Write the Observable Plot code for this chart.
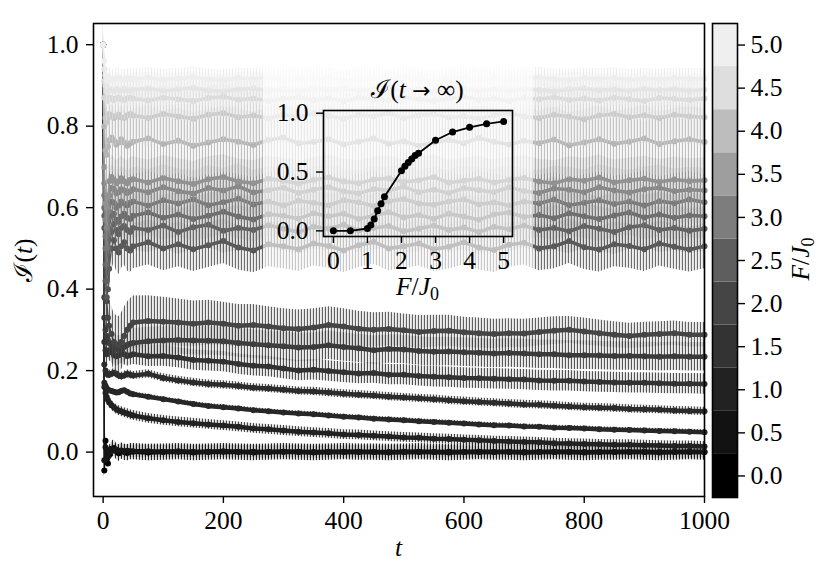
<!DOCTYPE html>
<html><head><meta charset="utf-8">
<script src="https://cdn.jsdelivr.net/npm/d3@7"></script>
<script src="https://cdn.jsdelivr.net/npm/@observablehq/plot@0.6"></script>
<style>
html,body{margin:0;padding:0;background:#fff;}
#wrap{position:relative;width:830px;height:578px;overflow:hidden;}
#wrap svg{position:absolute;top:0;left:0;}
#wrap g[aria-label$="tick"]{stroke-width:1.4px;}
</style></head><body><div id="wrap"></div>
<script>
// ---------- data ----------
const T = [0,2,4,6,8,10,14,18,22,26,30,35,40,45,
 50,75,100,125,150,175,200,225,250,275,300,325,350,
 375,400,425,450,475,500,525,550,575,600,625,650,675,
 700,725,750,775,800,825,850,875,900,925,950,975,1000];

const F_VALUES = [0,0.5,1.0,1.1,1.2,1.3,1.4,1.5,2.0,2.1,2.2,2.3,2.4,2.5,3.0,3.5,4.0,4.5,5.0];

const I_F00 = [1.0,-0.045,0.028,0.0,-0.028,-0.008,0.006,0.01,0.002,-0.003,0.003,0.0,-0.002,0.001,
 0.001,-0.001,0.0,0.001,-0.001,0.0,0.001,0.0,-0.001,0.0,0.001,0.0,-0.001,
 0.0,0.001,0.0,0.0,-0.001,0.0,0.001,0.0,-0.001,0.0,0.001,0.0,0.0,
 -0.001,0.0,0.001,0.0,-0.001,0.0,0.0,0.001,0.0,-0.001,0.0,0.001,0.0];
const I_F05 = [1.0,-0.02,0.012,0.006,-0.012,0.0,0.008,0.004,0.006,0.003,0.004,0.002,0.003,0.002,
 0.002,0.002,0.001,0.002,0.001,0.001,0.002,0.001,0.001,0.0,0.001,0.001,0.0,
 0.001,0.0,0.001,0.0,0.0,0.001,0.0,0.0,0.001,0.0,0.0,0.0,0.001,
 0.0,0.0,0.0,0.001,0.0,0.0,0.0,0.0,0.001,0.0,0.0,0.0,0.0];
const I_F10 = [1.0,0.16,0.145,0.135,0.128,0.122,0.115,0.11,0.105,0.102,0.1,0.097,0.095,0.092,
 0.09,0.083,0.078,0.074,0.071,0.068,0.065,0.062,0.058,0.056,0.053,0.05,0.048,
 0.046,0.043,0.042,0.04,0.038,0.036,0.035,0.033,0.032,0.03,0.029,0.027,0.026,
 0.025,0.024,0.022,0.021,0.02,0.019,0.018,0.018,0.017,0.016,0.015,0.015,0.014];
const I_F11 = [1.0,0.17,0.163,0.157,0.152,0.152,0.15,0.148,0.146,0.147,0.15,0.152,0.148,0.144,
 0.142,0.136,0.13,0.124,0.118,0.113,0.11,0.107,0.103,0.1,0.097,0.095,0.093,
 0.09,0.087,0.085,0.082,0.08,0.078,0.076,0.074,0.072,0.07,0.068,0.066,0.065,
 0.063,0.062,0.06,0.059,0.058,0.056,0.055,0.054,0.053,0.052,0.051,0.05,0.049];
const I_F12 = [1.0,0.215,0.2,0.192,0.19,0.19,0.192,0.195,0.192,0.188,0.186,0.188,0.192,0.19,
 0.188,0.192,0.182,0.176,0.171,0.167,0.165,0.162,0.158,0.156,0.153,0.15,0.149,
 0.146,0.143,0.141,0.139,0.136,0.134,0.132,0.13,0.127,0.125,0.123,0.121,0.119,
 0.117,0.116,0.114,0.112,0.11,0.109,0.108,0.106,0.105,0.104,0.102,0.101,0.1];
const I_F13 = [1.0,0.27,0.25,0.24,0.245,0.25,0.245,0.238,0.235,0.238,0.242,0.24,0.236,0.238,
 0.24,0.235,0.236,0.232,0.226,0.224,0.222,0.216,0.212,0.21,0.205,0.2,0.202,
 0.199,0.196,0.193,0.194,0.19,0.19,0.187,0.185,0.184,0.182,0.181,0.18,0.179,
 0.178,0.176,0.175,0.175,0.173,0.172,0.171,0.17,0.17,0.169,0.168,0.168,0.167];
const I_F14 = [1.0,0.33,0.3,0.285,0.275,0.268,0.262,0.256,0.252,0.25,0.252,0.258,0.263,0.266,
 0.268,0.272,0.274,0.275,0.274,0.273,0.272,0.268,0.265,0.262,0.26,0.257,0.258,
 0.262,0.258,0.255,0.25,0.253,0.252,0.248,0.246,0.247,0.245,0.244,0.242,0.243,
 0.242,0.24,0.24,0.238,0.238,0.237,0.236,0.236,0.235,0.234,0.235,0.234,0.234];
const I_F15 = [1.0,0.38,0.375,0.37,0.33,0.31,0.29,0.27,0.265,0.262,0.27,0.285,0.3,0.31,
 0.318,0.322,0.32,0.318,0.315,0.318,0.315,0.31,0.312,0.308,0.304,0.302,0.306,
 0.312,0.308,0.303,0.3,0.302,0.299,0.295,0.297,0.298,0.294,0.292,0.29,0.292,
 0.291,0.295,0.298,0.3,0.296,0.292,0.288,0.285,0.288,0.29,0.292,0.288,0.288];
const I_F20 = [1.0,0.55,0.42,0.38,0.4,0.45,0.5,0.52,0.5,0.49,0.505,0.515,0.5,0.495,
 0.505,0.515,0.5,0.51,0.498,0.508,0.518,0.502,0.495,0.51,0.505,0.498,0.512,
 0.506,0.495,0.508,0.516,0.5,0.505,0.512,0.498,0.504,0.515,0.502,0.496,0.509,
 0.514,0.5,0.505,0.518,0.503,0.497,0.51,0.506,0.498,0.512,0.504,0.497,0.505];
const I_F21 = [1.0,0.58,0.46,0.42,0.45,0.5,0.54,0.56,0.545,0.535,0.55,0.555,0.545,0.54,
 0.55,0.545,0.556,0.54,0.552,0.558,0.543,0.55,0.545,0.557,0.548,0.54,0.553,
 0.549,0.558,0.544,0.55,0.555,0.542,0.548,0.556,0.545,0.551,0.54,0.553,0.547,
 0.556,0.545,0.55,0.542,0.555,0.548,0.54,0.552,0.557,0.545,0.55,0.543,0.548];
const I_F22 = [1.0,0.6,0.5,0.46,0.5,0.55,0.58,0.585,0.57,0.565,0.578,0.585,0.575,0.572,
 0.58,0.588,0.575,0.583,0.572,0.58,0.59,0.578,0.571,0.584,0.58,0.573,0.586,
 0.579,0.585,0.572,0.58,0.589,0.576,0.582,0.573,0.585,0.578,0.57,0.583,0.588,
 0.577,0.582,0.574,0.586,0.579,0.572,0.581,0.588,0.576,0.583,0.575,0.581,0.579];
const I_F23 = [1.0,0.63,0.53,0.5,0.54,0.59,0.615,0.612,0.6,0.605,0.615,0.61,0.605,0.612,
 0.615,0.605,0.618,0.61,0.62,0.606,0.613,0.622,0.608,0.615,0.605,0.617,0.612,
 0.606,0.618,0.613,0.604,0.616,0.621,0.61,0.607,0.615,0.62,0.608,0.613,0.605,
 0.615,0.61,0.62,0.606,0.612,0.618,0.609,0.615,0.605,0.616,0.611,0.62,0.613];
const I_F24 = [1.0,0.66,0.57,0.55,0.59,0.63,0.648,0.645,0.635,0.638,0.645,0.642,0.636,0.64,
 0.645,0.638,0.65,0.64,0.635,0.648,0.642,0.652,0.637,0.643,0.649,0.636,0.644,
 0.65,0.64,0.635,0.646,0.642,0.651,0.638,0.644,0.636,0.648,0.643,0.638,0.65,
 0.641,0.636,0.647,0.644,0.638,0.65,0.642,0.637,0.645,0.649,0.64,0.644,0.642];
const I_F25 = [1.0,0.7,0.61,0.6,0.63,0.665,0.675,0.668,0.66,0.665,0.672,0.665,0.66,0.668,
 0.67,0.662,0.673,0.665,0.658,0.67,0.675,0.664,0.66,0.671,0.666,0.659,0.668,
 0.674,0.664,0.66,0.669,0.672,0.663,0.667,0.675,0.661,0.666,0.671,0.662,0.668,
 0.673,0.664,0.66,0.67,0.666,0.674,0.662,0.667,0.671,0.663,0.669,0.665,0.667];
const I_F30 = [1.0,0.8,0.74,0.73,0.75,0.765,0.772,0.765,0.755,0.76,0.768,0.76,0.752,0.758,
 0.762,0.77,0.756,0.764,0.752,0.76,0.768,0.762,0.754,0.766,0.772,0.758,0.761,
 0.768,0.755,0.762,0.77,0.757,0.763,0.752,0.76,0.766,0.758,0.771,0.762,0.755,
 0.764,0.758,0.767,0.753,0.76,0.768,0.757,0.762,0.77,0.756,0.763,0.768,0.761];
const I_F35 = [1.0,0.87,0.82,0.81,0.82,0.83,0.826,0.82,0.824,0.828,0.822,0.82,0.826,0.83,
 0.826,0.82,0.83,0.824,0.818,0.828,0.832,0.822,0.826,0.819,0.828,0.823,0.831,
 0.825,0.818,0.827,0.824,0.832,0.82,0.826,0.829,0.821,0.825,0.818,0.827,0.832,
 0.824,0.82,0.828,0.823,0.817,0.826,0.83,0.822,0.827,0.82,0.828,0.824,0.822];
const I_F40 = [1.0,0.91,0.87,0.862,0.866,0.87,0.868,0.864,0.868,0.87,0.866,0.864,0.868,0.87,
 0.868,0.863,0.87,0.866,0.862,0.869,0.872,0.865,0.868,0.862,0.867,0.871,0.864,
 0.868,0.862,0.87,0.866,0.864,0.871,0.866,0.862,0.868,0.872,0.865,0.867,0.862,
 0.869,0.866,0.871,0.864,0.868,0.863,0.87,0.866,0.862,0.869,0.867,0.864,0.868];
const I_F45 = [1.0,0.94,0.9,0.886,0.888,0.892,0.89,0.887,0.891,0.89,0.888,0.892,0.889,0.887,
 0.89,0.893,0.887,0.891,0.894,0.888,0.886,0.891,0.893,0.888,0.89,0.886,0.892,
 0.889,0.893,0.887,0.89,0.894,0.888,0.891,0.886,0.89,0.893,0.888,0.891,0.887,
 0.892,0.889,0.886,0.891,0.893,0.888,0.89,0.887,0.892,0.889,0.891,0.887,0.89];
const I_F50 = [1.0,0.96,0.925,0.912,0.914,0.918,0.916,0.913,0.917,0.918,0.915,0.913,0.917,0.916,
 0.916,0.919,0.914,0.917,0.92,0.915,0.913,0.918,0.916,0.92,0.914,0.917,0.915,
 0.919,0.913,0.916,0.918,0.914,0.92,0.916,0.913,0.917,0.919,0.915,0.918,0.914,
 0.917,0.92,0.915,0.913,0.918,0.916,0.919,0.914,0.917,0.915,0.918,0.916,0.917];

// error-bar half widths (F = 1.5 read point by point, others roughly constant)
const ERR_F15 = [0,0.05,0.06,0.06,0.06,0.065,0.07,0.07,0.07,0.07,0.07,0.07,0.068,0.066,
 0.065,0.062,0.06,0.058,0.056,0.055,0.053,0.052,0.05,0.049,0.048,0.047,0.046,
 0.045,0.044,0.043,0.042,0.041,0.04,0.04,0.039,0.038,0.037,0.037,0.036,0.035,
 0.035,0.034,0.034,0.033,0.033,0.032,0.032,0.031,0.031,0.03,0.03,0.03,0.03];
const ERR = [0.02,0.015,0.012,0.006,0.01,0.025,0.035,ERR_F15,0.055,0.055,0.055,0.055,0.055,0.055,0.08,0.07,0.05,0.04,0.025];

const SERIES = [I_F00,I_F05,I_F10,I_F11,I_F12,I_F13,I_F14,I_F15,I_F20,I_F21,I_F22,I_F23,I_F24,I_F25,I_F30,I_F35,I_F40,I_F45,I_F50];

// inset: long-time limit
const INSET_F = [0,0.5,1.0,1.1,1.2,1.3,1.4,1.5,2.0,2.1,2.2,2.3,2.4,2.5,3.0,3.5,4.0,4.5,5.0];
const INSET_I = [0,0,0.02,0.05,0.1,0.17,0.23,0.29,0.51,0.55,0.58,0.61,0.64,0.66,0.77,0.84,0.88,0.91,0.93];

// ticks
const X_TICKS = [0,200,400,600,800,1000];
const Y_TICKS = [0,0.2,0.4,0.6,0.8,1.0];
const CB_LEVELS = [0,0.5,1.0,1.5,2.0,2.5,3.0,3.5,4.0,4.5,5.0];

// styles
const LINE_GRAYS = ["#000000","#161616","#222222","#272727","#2c2c2c","#323232","#3a3a3a","#454545",
 "#555555","#5f5f5f","#6a6a6a","#777777","#848484","#929292","#b4b4b4","#c8c8c8","#d8d8d8","#e4e4e4","#eeeeee"];
const CB_COLORS = ["#000000","#121212","#222222","#333333","#454545","#5e5e5e","#7d7d7d","#9e9e9e","#bdbdbd","#dedede","#efefef"];
const FONT = "'Liberation Serif','DejaVu Serif',serif";
const FS = 25.5;

// ---------- build ----------
const rows = [];
SERIES.forEach((vals, k) => {
  vals.forEach((v, j) => {
    if (j >= T.length) return;
    const e = Array.isArray(ERR[k]) ? ERR[k][j] : ERR[k];
    rows.push({k, F: F_VALUES[k], t: T[j], v, e});
  });
});

const marks = [];
SERIES.forEach((vals, k) => {
  const d = rows.filter(r => r.k === k);
  const c = LINE_GRAYS[k];
  const upper = F_VALUES[k] >= 2;
  marks.push(Plot.areaY(d, {x: "t", y1: r => r.v - r.e, y2: r => r.v + r.e, fill: `url(#eb${k})`}));
  marks.push(Plot.line(d, {x: "t", y: "v", stroke: c, strokeWidth: 1.4}));
  marks.push(Plot.line(d.filter(r => r.t >= 40), {x: "t", y: "v", stroke: c, strokeWidth: upper ? 3.6 : 4.5, strokeLinejoin: "round", strokeLinecap: "round"}));
  marks.push(Plot.dot(d, {x: "t", y: "v", r: 3, fill: c}));
});
marks.push(Plot.frame({strokeWidth: 1.6}));

const wrap = document.getElementById("wrap");

const main = Plot.plot({
  width: 830, height: 578,
  marginLeft: 93, marginRight: 126, marginTop: 23, marginBottom: 82,
  style: {fontFamily: FONT, fontSize: FS + "px", color: "#000", background: "transparent", overflow: "visible"},
  x: {domain: [-16, 1000], ticks: X_TICKS, tickFormat: d3.format("d"), tickSize: 7, tickPadding: 7, label: null},
  y: {domain: [-0.109, 1.052], ticks: Y_TICKS, tickFormat: d3.format(".1f"), tickSize: 7, tickPadding: 8, label: null},
  marks
});
const defs = d3.select(main).insert("defs", ":first-child");
LINE_GRAYS.forEach((c, k) => {
  const p = defs.append("pattern").attr("id", `eb${k}`).attr("patternUnits", "userSpaceOnUse")
    .attr("width", 3).attr("height", 8);
  p.append("rect").attr("x", 0.8).attr("y", 0).attr("width", 1.3).attr("height", 8)
    .attr("fill", c).attr("fill-opacity", 0.85);
});
const sm = d3.select(main);
const xl = sm.append("text").attr("x", 398.5).attr("y", 556).attr("text-anchor", "middle")
  .attr("font-family", FONT).attr("font-size", FS);
xl.append("tspan").attr("font-style", "italic").text("t");
const yl = sm.append("text").attr("transform", "translate(32,260) rotate(-90)").attr("text-anchor", "middle")
  .attr("font-family", FONT).attr("font-size", FS);
yl.append("tspan").text("ℐ(");
yl.append("tspan").attr("font-style", "italic").text("t");
yl.append("tspan").text(")");
wrap.appendChild(main);

// colorbar
const cb = Plot.plot({
  width: 118, height: 578,
  marginLeft: 0, marginRight: 93, marginTop: 23, marginBottom: 81,
  style: {fontFamily: FONT, fontSize: FS + "px", color: "#000", background: "transparent", overflow: "visible"},
  color: {type: "identity"},
  y: {domain: [-0.25, 5.25], ticks: CB_LEVELS, tickFormat: d3.format(".1f"), axis: "right", tickSize: 7, tickPadding: 6, label: null},
  marks: [
    Plot.rect(CB_LEVELS.map((f, i) => ({f, c: CB_COLORS[i]})), {y1: d => d.f - 0.25, y2: d => d.f + 0.25, fill: "c"}),
    Plot.frame({strokeWidth: 1.6})
  ]
});
cb.style.left = "712px";
const cl = d3.select(cb).append("text").attr("transform", "translate(97,259) rotate(-90)").attr("text-anchor", "middle")
  .attr("font-family", FONT).attr("font-size", FS);
cl.append("tspan").attr("font-style", "italic").text("F");
cl.append("tspan").text("/");
cl.append("tspan").attr("font-style", "italic").text("J");
cl.append("tspan").attr("font-size", 18).attr("dy", 5).text("0");
wrap.appendChild(cb);

// inset
const insetData = INSET_F.map((f, i) => ({F: f, I: INSET_I[i]}));
const ins = Plot.plot({
  width: 270, height: 250,
  marginLeft: 60, marginRight: 21, marginTop: 55, marginBottom: 69,
  style: {fontFamily: FONT, fontSize: FS + "px", color: "#000", background: "rgba(255,255,255,0.62)", overflow: "visible"},
  x: {domain: [-0.29, 5.26], ticks: [0,1,2,3,4,5], tickFormat: d3.format("d"), tickSize: 7, tickPadding: 7, label: null},
  y: {domain: [-0.048, 1.023], ticks: [0, 0.5, 1.0], tickFormat: d3.format(".1f"), tickSize: 7, tickPadding: 8, label: null},
  marks: [
    Plot.line(insetData, {x: "F", y: "I", stroke: "#000", strokeWidth: 1.8}),
    Plot.dot(insetData, {x: "F", y: "I", r: 3.5, fill: "#000"}),
    Plot.frame({strokeWidth: 1.6})
  ]
});
ins.style.left = "263px";
ins.style.top = "55px";
const si = d3.select(ins);
const it = si.append("text").attr("x", 154.5).attr("y", 43).attr("text-anchor", "middle")
  .attr("font-family", FONT).attr("font-size", FS);
it.append("tspan").text("ℐ(");
it.append("tspan").attr("font-style", "italic").text("t");
it.append("tspan").text(" ");
it.append("tspan").attr("font-family", "'DejaVu Sans'").attr("font-size", 22).text("→");
it.append("tspan").text(" ∞)");
const ix = si.append("text").attr("x", 154.5).attr("y", 240).attr("text-anchor", "middle")
  .attr("font-family", FONT).attr("font-size", FS);
ix.append("tspan").attr("font-style", "italic").text("F");
ix.append("tspan").text("/");
ix.append("tspan").attr("font-style", "italic").text("J");
ix.append("tspan").attr("font-size", 18).attr("dy", 5).text("0");
wrap.appendChild(ins);
</script></body></html>
